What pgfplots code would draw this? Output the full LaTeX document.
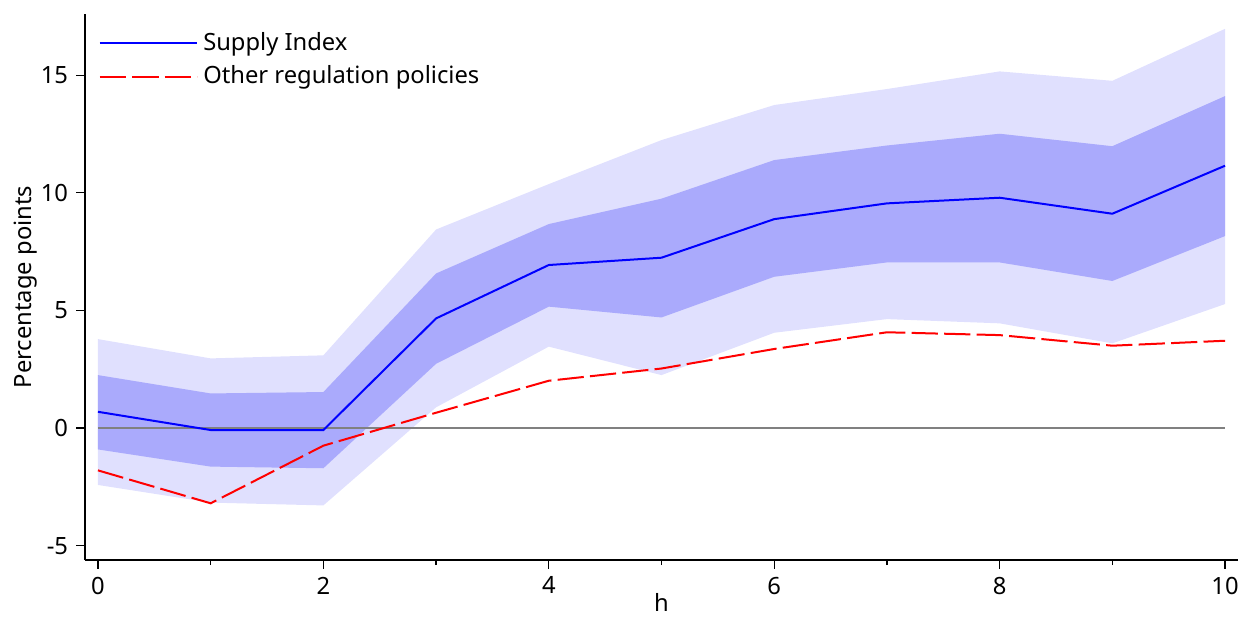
\documentclass[border=0pt]{standalone}
\usepackage{pgfplots}
\pgfplotsset{compat=1.18}
\usepackage{fontspec}
\setmainfont{Noto Sans}

\definecolor{bandlight}{RGB}{224,224,254}
\definecolor{banddark}{RGB}{170,170,252}
\definecolor{zerogray}{RGB}{128,128,128}

\begin{document}
\fontsize{9.5}{11.4}\selectfont
\begin{tikzpicture}
  \begin{axis}[
    scale only axis,
    width=461.2pt, height=218.4pt,
    xmin=-0.115, xmax=10.115,
    ymin=-5.61, ymax=17.6,
    axis lines*=left,
    axis line style={black, line width=0.6pt, -},
    xtick={0,2,4,6,8,10},
    minor x tick num=1,
    ytick={-5,0,5,10,15},
    tick align=outside,
    tick style={black, line width=0.5pt},
    major tick length=3.4pt,
    minor tick length=2pt,
    /pgf/number format/assume math mode=true,
    ticklabel style={font=\fontsize{9.5}{11.4}\selectfont},
    xlabel={h},
    ylabel={Percentage points},
    label style={font=\fontsize{9.5}{11.4}\selectfont},
    xlabel style={yshift=6.8pt},
    ylabel style={yshift=-5pt},
    legend style={at={(0.005,0.985)}, anchor=north west, draw=none, fill=none,
      font=\fontsize{9.5}{11.4}\selectfont, row sep=0.6pt},
    legend cell align=left,
    legend image code/.code={\draw[#1] (0pt,0pt) -- (33.5pt,0pt); \path (0pt,0pt) -- (39pt,0pt);},
  ]
  % 90% band
  \addplot[fill=bandlight, draw=none, forget plot] coordinates {
    (0,3.78) (1,2.96) (2,3.09) (3,8.44) (4,10.37) (5,12.24) (6,13.73) (7,14.41) (8,15.16) (9,14.76) (10,16.97)
    (10,5.27) (9,3.60) (8,4.45) (7,4.63) (6,4.05) (5,2.25) (4,3.46) (3,0.88) (2,-3.29) (1,-3.17) (0,-2.42)
  } -- cycle;
  % 68% band
  \addplot[fill=banddark, draw=none, forget plot] coordinates {
    (0,2.25) (1,1.47) (2,1.53) (3,6.57) (4,8.67) (5,9.75) (6,11.39) (7,12.01) (8,12.51) (9,11.98) (10,14.11)
    (10,8.16) (9,6.25) (8,7.04) (7,7.04) (6,6.43) (5,4.70) (4,5.16) (3,2.73) (2,-1.71) (1,-1.64) (0,-0.91)
  } -- cycle;
  \addplot[zerogray, line width=0.45pt, forget plot] coordinates {(0,0) (10,0)};
  \addplot[blue, line width=0.8pt] coordinates {
    (0,0.69) (1,-0.085) (2,-0.085) (3,4.66) (4,6.93) (5,7.24) (6,8.88) (7,9.55) (8,9.79) (9,9.11) (10,11.15)
  };
  \addlegendentry{Supply Index}
  \addplot[red, line width=0.8pt, dash pattern=on 10.5pt off 2.5pt] coordinates {
    (0,-1.80) (1,-3.20) (2,-0.75) (3,0.65) (4,2.01) (5,2.53) (6,3.36) (7,4.07) (8,3.95) (9,3.50) (10,3.71)
  };
  \addlegendentry{Other regulation policies}
  \end{axis}
  % page frame with the reference's margins round the axis
  \pgfresetboundingbox
  \useasboundingbox (-34pt,-22.8pt) rectangle (462.4pt,224pt);
\end{tikzpicture}
\end{document}
